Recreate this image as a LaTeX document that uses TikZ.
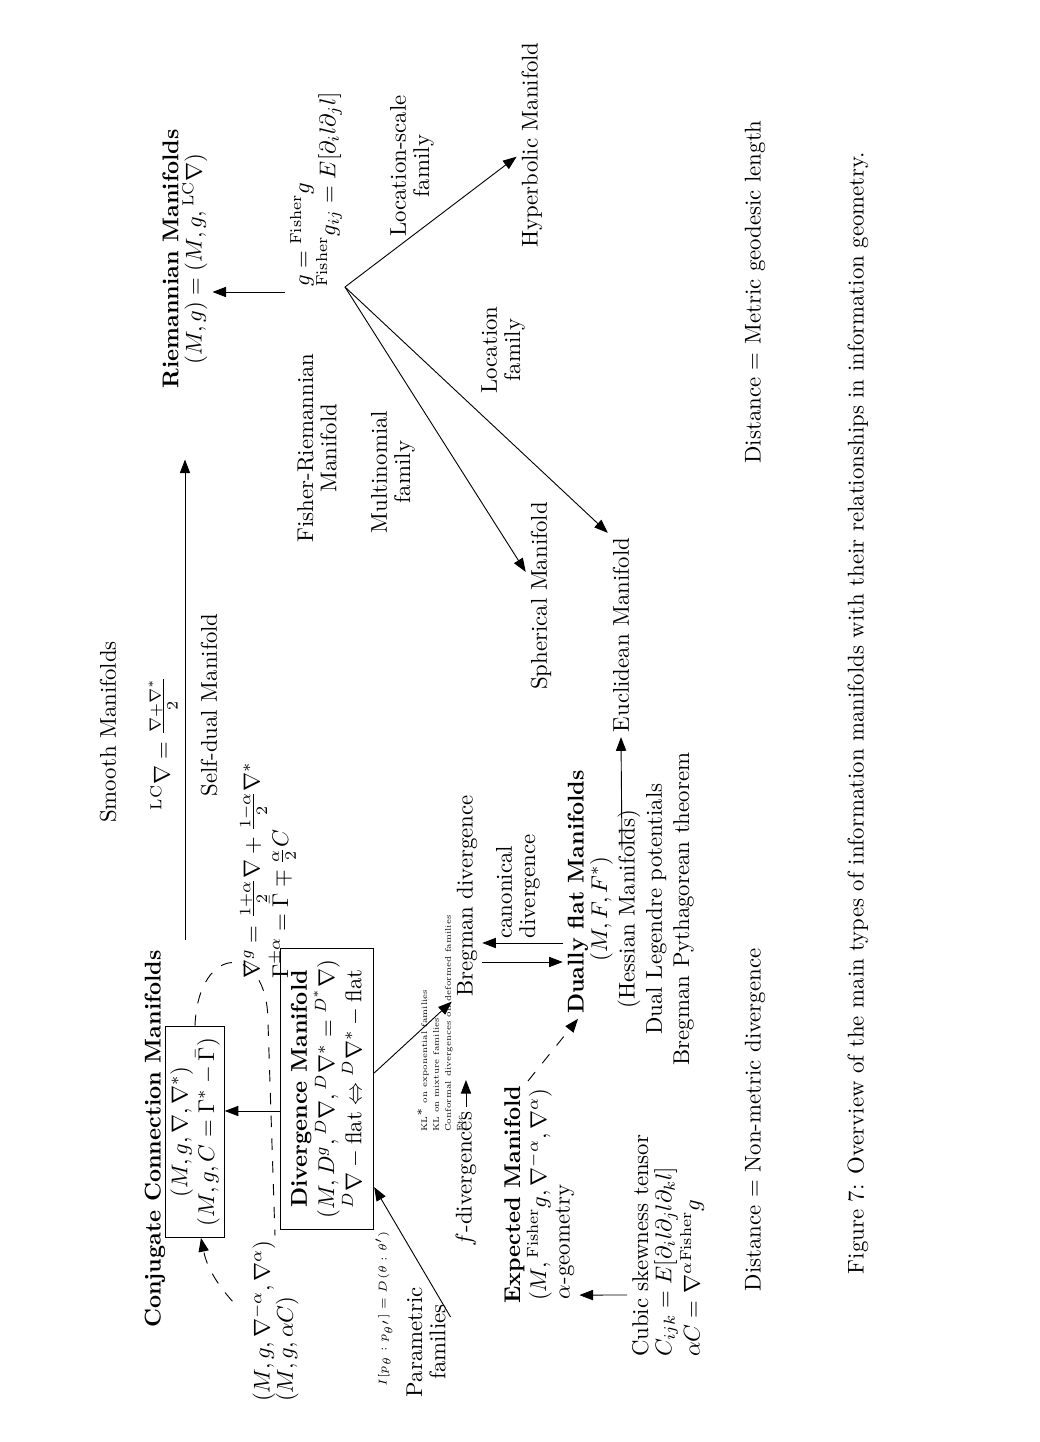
\documentclass[tikz,border=0pt]{standalone}
\usepackage{amsmath}
\usepackage{amssymb}
\usetikzlibrary{arrows.meta, positioning, calc}

\begin{document}
\begin{tikzpicture}[
    x=0.4386pt, y=0.4386pt, rotate=90, transform shape,
    lbl/.style={align=center, inner sep=2pt, font=\linespread{0.85}\selectfont},
    lbll/.style={align=left, inner sep=2pt, font=\linespread{0.85}\selectfont},
    frame/.style={draw, align=center, inner xsep=5pt, inner ysep=2pt,
                  font=\linespread{0.85}\selectfont},
    arrow/.style={-{Triangle[length=6pt,width=4.5pt]}},
    dasharrow/.style={arrow, dash pattern=on 5pt off 5pt},
    dashline/.style={dash pattern=on 5pt off 5pt}
]
    \useasboundingbox (0,0) rectangle (1442,1040);

    % left part: connections and divergences
    \node[lbl, font=\bfseries] (conjt) at (303,885) {Conjugate Connection Manifolds};
    \node[frame, minimum width=91pt, minimum height=25pt] (conj) at (310,845)
        {$(M, g, \nabla, \nabla^*)$\\$(M, g, C = \Gamma^* - \bar{\Gamma})$};
    \node[lbll, anchor=west] (alpha) at (35,765)
        {$(M, g, \nabla^{-\alpha}, \nabla^{\alpha})$\\$(M, g, \alpha C)$};
    \node[frame, minimum width=122pt, minimum height=41pt] (div) at (353,713)
        {\textbf{Divergence Manifold}\\
         $(M, D^g, {}^D\nabla, {}^D\nabla^* = {}^{D^*}\nabla)$\\
         ${}^D\nabla - \text{flat} \Leftrightarrow {}^D\nabla^* - \text{flat}$};
    \node[lbll, anchor=west] (gform) at (458,772)
        {$\nabla^g = \frac{1+\alpha}{2}\nabla + \frac{1-\alpha}{2}\nabla^*$\\
         $\Gamma^{\pm\alpha} = \bar{\Gamma} \mp \frac{\alpha}{2}C$};

    \draw[arrow] ($(div.north)+(-22,0)$) -- ($(conj.south)+(21,0)$);
    \draw[dashline] (conj.east) .. controls (500,842) and (500,772) .. (420,772) -- (alpha.east);
    \draw[dasharrow] ($(alpha.north)+(20,14)$) to[bend left=15] ($(conj.west)+(0,-6)$);

    \node[lbl] (smooth) at (710,932) {Smooth Manifolds};
    \node[lbl] (lc) at (699,877) {${}^{\mathrm{LC}}\nabla = \frac{\nabla+\nabla^*}{2}$};
    \node[lbl] (selfdual) at (737,831) {Self-dual Manifold};

    \node[lbl, font=\fontsize{5}{6}\selectfont] (ipd) at (133,656)
        {$I[p_\theta : p_{\theta'}] = D(\theta : \theta')$};
    \node[lbl] (param) at (100,614) {Parametric\\families};
    \node[lbl] (fdiv) at (263,574) {$f$-divergences};
    \node[lbll, anchor=west, font=\fontsize{3.6}{5.2}\selectfont] (kl) at (305,600)
        {KL$^*$ on exponential families\\KL on mixture families\\
         Conformal divergences on deformed families\\Etc.};
    \node[lbl] (breg) at (546,573) {Bregman divergence};
    \coordinate (fend) at (362,574);

    \draw[arrow] ($(param.south east)+(-35,0)$) -- ($(div.south west)+(43,0)$);
    \draw[arrow] ($(div.south)+(16,0)$) -- (breg.north west);
    \draw[arrow] (fdiv.east) -- (fend);

    % expected and dually flat
    \node[lbl] (expt) at (247,512)
        {\textbf{Expected Manifold}\\$(M, {}^{\mathrm{Fisher}}g, \nabla^{-\alpha}, \nabla^{\alpha})$};
    \node[lbl] (ageo) at (200,475) {$\alpha$-geometry};
    \node[lbll, anchor=west] (cubic) at (80,372)
        {Cubic skewness tensor\\$C_{ijk} = E[\partial_i l \partial_j l \partial_k l]$\\
         $\alpha C = \nabla^{\alpha}{}^{\mathrm{Fisher}}g$};
    \draw[arrow] ($(cubic.north west)+(67,0)$) -- ($(ageo.south west)+(9,0)$);

    \node[lbl, font=\bfseries] (dually) at (550,462) {Dually flat Manifolds};
    \node[lbl, font={}] (dinfo) at (533,398)
        {$(M, F, F^*)$\\(Hessian Manifolds)\\Dual Legendre potentials\\Bregman Pythagorean theorem};
    \draw[dasharrow] (expt.east) -- (dually.west);
    \draw[arrow] ($(dually.north)+(-51,0)$) -- ($(breg.south)+(-47,0)$);
    \draw[arrow] ($(breg.south)+(-66,0)$) -- ($(dually.north)+(-70,0)$);
    \node[lbll, anchor=west, inner sep=0pt] (canon) at (503,522) {canonical\\divergence};

    % right part: Riemannian manifolds
    \node[lbl] (riem) at (1183,855) {\textbf{Riemannian Manifolds}\\$(M,g) = (M, g, {}^{\mathrm{LC}}\nabla)$};
    \coordinate (sd) at (502,855);
    \draw[arrow, shorten >=29pt] (sd) -- (riem.west);

    \node[lbll, anchor=west] (fisher) at (1150,724)
        {$g = {}^{\mathrm{Fisher}}g$\\${}^{\mathrm{Fisher}}g_{ij} = E[\partial_i l \partial_j l]$};
    \draw[arrow] (fisher.north west) -- ($(riem.south)+(-33,0)$);

    \node[lbl] (fr) at (994,723) {Fisher-Riemannian\\Manifold};
    \node[lbl] (multi) at (970,647) {Multinomial\\family};
    \node[lbl] (loc) at (1092,537) {Location\\family};
    \node[lbl] (locs) at (1276,628) {Location-scale\\family};

    \node[lbl] (hyper) at (1297,508) {Hyperbolic Manifold};
    \node[lbl] (spher) at (846,499) {Spherical Manifold};
    \node[lbl] (eucl) at (807,419) {Euclidean Manifold};
    \coordinate (apex) at (1155,695);
    \draw[arrow] (apex) -- (hyper);
    \draw[arrow] (apex) -- (spher);
    \draw[arrow] (apex) -- (eucl.north east);
    \draw[arrow] ($(dinfo.center)+(59,20)$) -- (eucl.west);

    % distances and caption
    \node[lbl] (dnm) at (322,285) {Distance $=$ Non-metric divergence};
    \node[lbl] (dm) at (1150,285) {Distance $=$ Metric geodesic length};
    \node[lbl] (cap) at (729,182) {Figure 7: Overview of the main types of information manifolds with their relationships in information geometry.};
\end{tikzpicture}
\end{document}
